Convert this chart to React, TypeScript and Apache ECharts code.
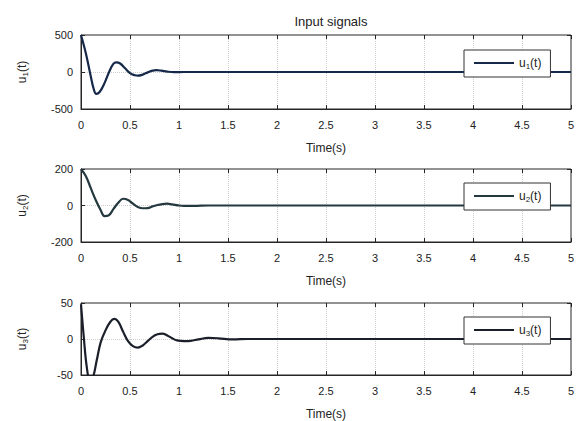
import React, { useEffect, useRef } from "react";
import * as echarts from "echarts";

// time (s) and values
const t1 = [0, 0.05, 0.1, 0.13, 0.155, 0.19, 0.24, 0.29, 0.33, 0.36, 0.4, 0.45, 0.5, 0.55, 0.58, 0.63, 0.68, 0.72, 0.77, 0.82, 0.88, 0.95, 1.05, 1.5, 5];
const u1 = [500, 250, -60, -230, -295, -270, -150, 10, 110, 131, 115, 50, -15, -45, -50, -35, -5, 15, 25, 18, 5, -2, 0, 0, 0];

const t2 = [0, 0.05, 0.1, 0.15, 0.2, 0.24, 0.28, 0.33, 0.38, 0.43, 0.48, 0.53, 0.58, 0.63, 0.68, 0.73, 0.78, 0.83, 0.88, 0.93, 1.0, 1.05, 1.15, 1.3, 5];
const u2 = [200, 160, 95, 30, -25, -58, -55, -20, 15, 37, 30, 10, -8, -15, -14, -5, 3, 8, 10, 6, 0, -2, -2, 0, 0];

const t3 = [0, 0.03, 0.06, 0.09, 0.12, 0.16, 0.2, 0.25, 0.3, 0.34, 0.38, 0.43, 0.48, 0.53, 0.58, 0.63, 0.68, 0.73, 0.78, 0.83, 0.88, 0.93, 0.98, 1.05, 1.12, 1.2, 1.3, 1.4, 1.55, 1.7, 5];
const u3 = [48, 0, -40, -56, -54, -30, -5, 12, 24, 28, 24, 10, -3, -10, -12, -9, -3, 3, 6.5, 7.5, 5, 1, -2, -3, -2.5, -0.5, 1.5, 1, -0.5, 0, 0];

const yRanges = [
  [-500, 500, 500],
  [-200, 200, 200],
  [-50, 50, 50],
];
const seriesNames = ["u1", "u2", "u3"];
const lineColors = ["#17294a", "#24393f", "#1a1f2a"];

const FONT = "Liberation Sans";

export default function App() {
  const ref = useRef<HTMLDivElement>(null);
  useEffect(() => {
    if (!ref.current) return;
    const chart = echarts.init(ref.current, null, { renderer: "svg" });
    const tops = [35, 169, 303];
    const heights = [74, 73, 74];
    const legendTops = [50, 183, 317];
    const data = [
      t1.map((t, i) => [t, u1[i]]),
      t2.map((t, i) => [t, u2[i]]),
      t3.map((t, i) => [t, u3[i]]),
    ];
    const grids: any[] = [];
    const xAxes: any[] = [];
    const yAxes: any[] = [];
    const series: any[] = [];
    const legends: any[] = [];
    const rich = {
      a: { fontFamily: FONT, fontSize: 12, color: "#222" },
      b: { fontFamily: FONT, fontSize: 8, color: "#222", verticalAlign: "bottom", padding: [6, 0, 0, 0] },
    };
    const tick = { show: true, inside: true, length: 4, lineStyle: { color: "#262626" } };
    const split = { show: true, showMinLine: false, showMaxLine: false, lineStyle: { type: "dotted", color: "#cfcfcf" } };
    for (let k = 0; k < 3; k++) {
      grids.push({
        left: 81,
        top: tops[k],
        width: 490,
        height: heights[k],
        show: true,
        borderColor: "#262626",
        borderWidth: 1,
        backgroundColor: "#fff",
      });
      xAxes.push({
        type: "value",
        gridIndex: k,
        position: "bottom",
        min: 0,
        max: 5,
        interval: 0.5,
        name: "Time(s)",
        nameLocation: "middle",
        nameGap: 33,
        nameTextStyle: { fontFamily: FONT, fontSize: 12, color: "#222" },
        axisLine: { show: true, onZero: false, lineStyle: { color: "#262626" } },
        axisTick: tick,
        axisLabel: { fontFamily: FONT, fontSize: 11, color: "#222", margin: 10 },
        splitLine: split,
      });
      xAxes.push({
        type: "value",
        gridIndex: k,
        position: "top",
        min: 0,
        max: 5,
        interval: 0.5,
        axisLine: { show: false, onZero: false },
        axisTick: tick,
        axisLabel: { show: false },
        splitLine: { show: false },
      });
      const [mn, mx, iv] = yRanges[k];
      yAxes.push({
        type: "value",
        gridIndex: k,
        position: "left",
        min: mn,
        max: mx,
        interval: iv,
        name: `{a|u}{b|${k + 1}}{a|(t)}`,
        nameLocation: "middle",
        nameGap: 52,
        nameMoveOverlap: false,
        nameTextStyle: { fontFamily: FONT, fontSize: 12, color: "#222", rich },
        axisLine: { show: true, onZero: false, lineStyle: { color: "#262626" } },
        axisTick: tick,
        axisLabel: { fontFamily: FONT, fontSize: 11, color: "#222", margin: 8 },
        splitLine: split,
      });
      yAxes.push({
        type: "value",
        gridIndex: k,
        position: "right",
        min: mn,
        max: mx,
        interval: iv,
        axisLine: { show: false, onZero: false },
        axisTick: tick,
        axisLabel: { show: false },
        splitLine: { show: false },
      });
      series.push({
        type: "line",
        name: seriesNames[k],
        xAxisIndex: 2 * k,
        yAxisIndex: 2 * k,
        data: data[k],
        smooth: 0.4,
        showSymbol: false,
        clip: true,
        lineStyle: { color: lineColors[k], width: 2.2 },
        itemStyle: { color: lineColors[k] },
      });
      legends.push({
        data: [seriesNames[k]],
        left: 464,
        top: legendTops[k],
        orient: "vertical",
        padding: [7, 9, 7, 10],
        itemWidth: 40,
        itemHeight: 2,
        itemGap: 5,
        icon: "rect",
        borderColor: "#333",
        borderWidth: 1,
        backgroundColor: "#fff",
        formatter: () => `{a|u}{b|${k + 1}}{a|(t)}`,
        textStyle: { fontFamily: FONT, fontSize: 12, color: "#222", rich },
      });
    }
    chart.setOption({
      animation: false,
      backgroundColor: "#fff",
      title: {
        text: "Input signals",
        left: 326,
        top: 10,
        textAlign: "center",
        textStyle: { fontFamily: FONT, fontSize: 13, fontWeight: "normal", color: "#222" },
      },
      grid: grids,
      xAxis: xAxes,
      yAxis: yAxes,
      legend: legends,
      series,
    });
    return () => chart.dispose();
  }, []);
  return <div ref={ref} style={{ width: 582, height: 421, position: "absolute", left: 0, top: 0 }} />;
}
